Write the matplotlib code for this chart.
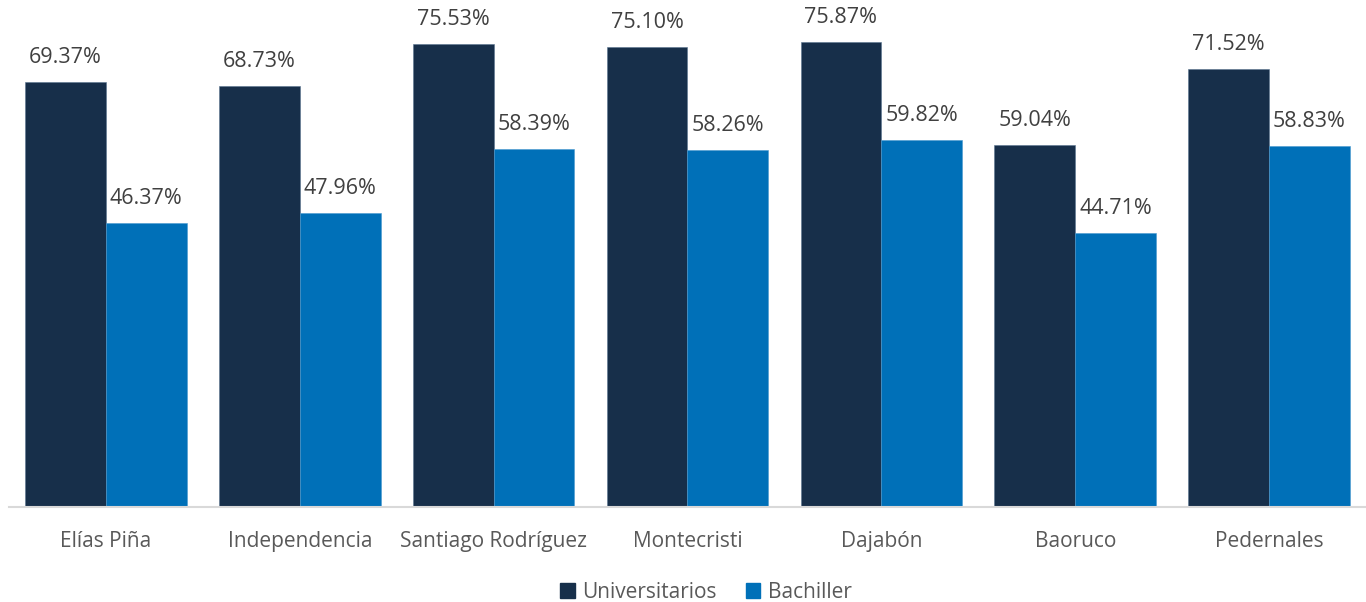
import numpy as np
import matplotlib.pyplot as plt
from matplotlib.patches import Patch

provincias = ["Elías Piña", "Independencia", "Santiago Rodríguez", "Montecristi",
              "Dajabón", "Baoruco", "Pedernales"]
universitarios = [69.37, 68.73, 75.53, 75.10, 75.87, 59.04, 71.52]
bachiller = [46.37, 47.96, 58.39, 58.26, 59.82, 44.71, 58.83]

color_univ = "#172F4A"
color_bach = "#0070B8"

plt.rcParams['font.family'] = ['Open Sans', 'DejaVu Sans']

fig = plt.figure(figsize=(13.66, 6.02), dpi=100)
ax = fig.add_axes([9 / 1366, 95 / 602, 1357 / 1366, 507 / 602])

x = np.arange(len(provincias))
w = 0.417
b1 = ax.bar(x - w / 2, universitarios, w, color=color_univ, edgecolor="#5A7590", linewidth=0.4)
b2 = ax.bar(x + w / 2, bachiller, w, color=color_bach, edgecolor="#4A9AD0", linewidth=0.4)

for bars, vals in ((b1, universitarios), (b2, bachiller)):
    for bar, v in zip(bars, vals):
        ax.annotate(f"{v:.2f}%", (bar.get_x() + bar.get_width() / 2, v),
                    xytext=(0, 10), textcoords="offset points",
                    ha="center", va="bottom", fontsize=15.5, color="#404040")

ax.set_xlim(-0.5, len(provincias) - 0.5)
ax.set_ylim(0, 82.7)
ax.set_yticks([])
ax.set_xticks(x)
ax.set_xticklabels(provincias, fontsize=15, color="#595959")
ax.tick_params(axis="x", length=0, pad=17)
for s in ["top", "right", "left"]:
    ax.spines[s].set_visible(False)
ax.spines["bottom"].set_color("#D9D9D9")
ax.spines["bottom"].set_linewidth(1.5)

handles = [Patch(color=color_univ, label="Universitarios"),
           Patch(color=color_bach, label="Bachiller")]
fig.legend(handles=handles, loc="center", bbox_to_anchor=(706 / 1366, 10 / 602),
           ncol=2, frameon=False, fontsize=15, handlelength=0.7, handleheight=0.7,
           handletextpad=0.35, columnspacing=1.4, labelcolor="#595959")

fig.savefig("out.png", dpi=100)
